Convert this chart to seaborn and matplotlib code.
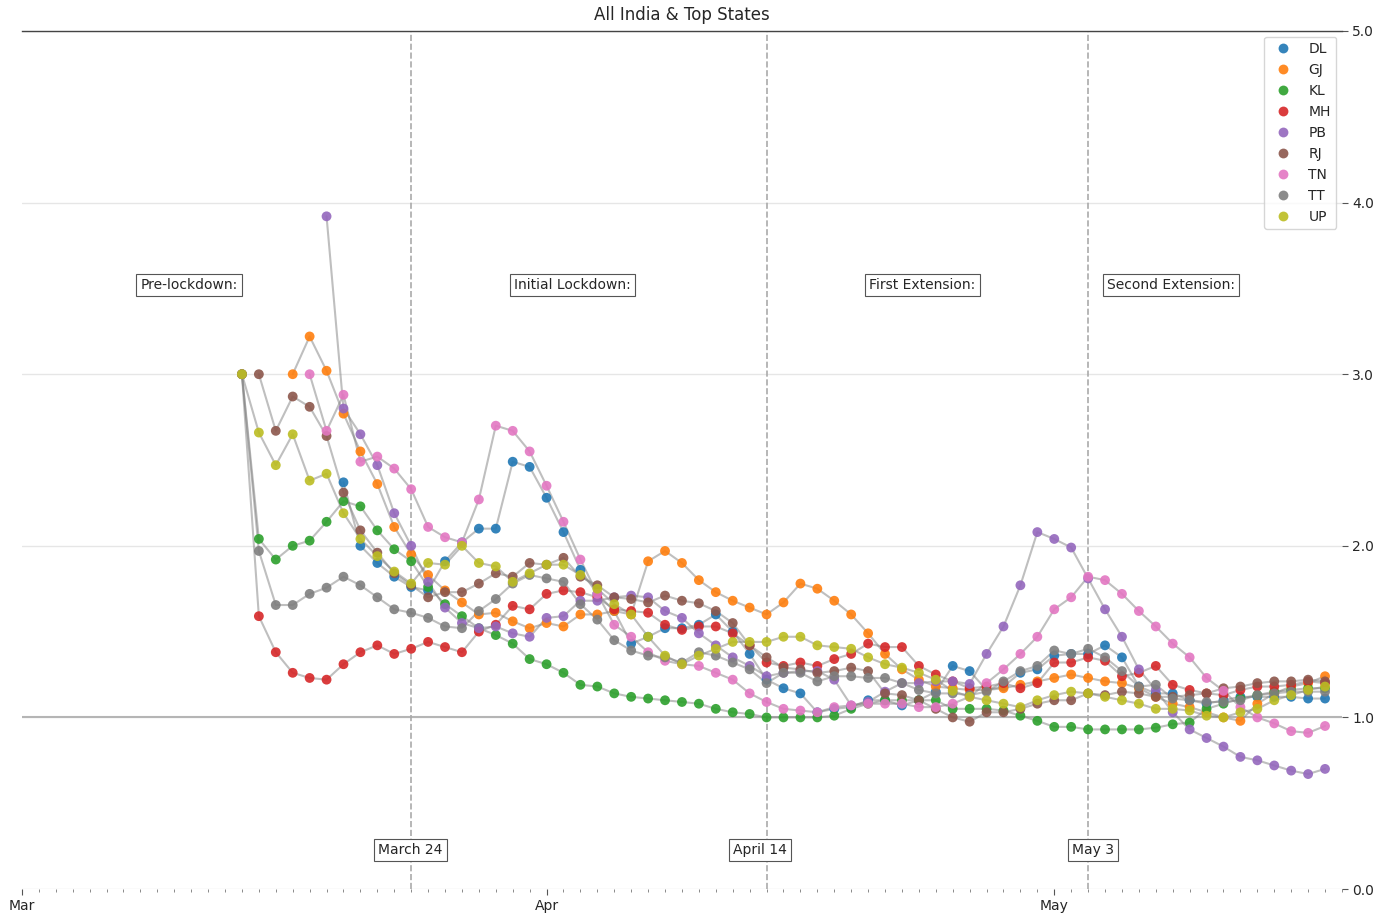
import numpy as np
import pandas as pd
import matplotlib
matplotlib.use("Agg")
import matplotlib.pyplot as plt
import matplotlib.dates as mdates
import seaborn as sns

# ── Data: daily estimates per state, each list starts at its own date ──────
STATES = ["DL", "GJ", "KL", "MH", "PB", "RJ", "TN", "TT", "UP"]

START = {
    "DL": "2020-03-20", "GJ": "2020-03-17", "KL": "2020-03-14",
    "MH": "2020-03-14", "PB": "2020-03-19", "RJ": "2020-03-15",
    "TN": "2020-03-18", "TT": "2020-03-14", "UP": "2020-03-14",
}

DL = [2.37, 2.00, 1.90, 1.82, 1.76, 1.74, 1.91, 2.02, 2.10, 2.10,
      2.49, 2.46, 2.28, 2.08, 1.86, 1.72, 1.62, 1.43, 1.47, 1.52,
      1.52, 1.54, 1.60, 1.50, 1.37, 1.22, 1.17, 1.14, 1.03, 1.05,
      1.06, 1.10, 1.10, 1.07, 1.10, 1.15, 1.30, 1.27, 1.16, 1.18,
      1.26, 1.28, 1.36, 1.37, 1.37, 1.42, 1.35, 1.18, 1.14, 1.14,
      1.10, 1.08, 1.10, 1.12, 1.12, 1.12, 1.12, 1.11, 1.11]

GJ = [3.00, 3.22, 3.02, 2.77, 2.55, 2.36, 2.11, 1.95, 1.83, 1.74,
      1.67, 1.60, 1.61, 1.56, 1.52, 1.55, 1.53, 1.60, 1.60, 1.62,
      1.60, 1.91, 1.97, 1.90, 1.80, 1.73, 1.68, 1.64, 1.60, 1.67,
      1.78, 1.75, 1.68, 1.60, 1.49, 1.37, 1.28, 1.22, 1.18, 1.17,
      1.16, 1.16, 1.17, 1.19, 1.21, 1.23, 1.25, 1.23, 1.21, 1.20,
      1.17, 1.12, 1.08, 1.06, 1.03, 1.00, 0.98, 1.08, 1.14, 1.18,
      1.20, 1.24]

KL = [3.00, 2.04, 1.92, 2.00, 2.03, 2.14, 2.26, 2.23, 2.09, 1.98,
      1.91, 1.76, 1.66, 1.59, 1.52, 1.48, 1.43, 1.34, 1.31, 1.26,
      1.19, 1.18, 1.14, 1.12, 1.11, 1.10, 1.09, 1.08, 1.05, 1.03,
      1.02, 1.00, 1.00, 1.00, 1.00, 1.01, 1.05, 1.08, 1.10, 1.10,
      1.10, 1.10, 1.05, 1.05, 1.05, 1.04, 1.01, 0.98, 0.945, 0.945,
      0.93, 0.93, 0.93, 0.93, 0.94, 0.96, 0.97, 1.05, 1.08, 1.11,
      1.13, 1.15, 1.16, 1.17, 1.17]

MH = [3.00, 1.59, 1.38, 1.26, 1.23, 1.22, 1.31, 1.38, 1.42, 1.37,
      1.40, 1.44, 1.41, 1.38, 1.50, 1.54, 1.65, 1.63, 1.72, 1.74,
      1.73, 1.70, 1.63, 1.62, 1.61, 1.54, 1.51, 1.53, 1.53, 1.49,
      1.42, 1.32, 1.30, 1.32, 1.30, 1.34, 1.37, 1.43, 1.41, 1.41,
      1.30, 1.25, 1.21, 1.17, 1.18, 1.20, 1.17, 1.20, 1.32, 1.32,
      1.35, 1.33, 1.24, 1.26, 1.30, 1.19, 1.16, 1.14, 1.13, 1.16,
      1.18, 1.18, 1.19, 1.21, 1.20]

PB = [3.92, 2.80, 2.65, 2.47, 2.19, 2.00, 1.79, 1.64, 1.55, 1.52,
      1.53, 1.49, 1.47, 1.58, 1.59, 1.68, 1.68, 1.70, 1.71, 1.70,
      1.62, 1.58, 1.49, 1.42, 1.35, 1.30, 1.24, 1.26, 1.27, 1.27,
      1.22, 1.07, 1.09, 1.15, 1.20, 1.20, 1.21, 1.21, 1.195, 1.37,
      1.53, 1.77, 2.08, 2.04, 1.99, 1.81, 1.63, 1.47, 1.28, 1.16,
      1.03, 0.93, 0.88, 0.83, 0.77, 0.75, 0.72, 0.69, 0.67, 0.70]

RJ = [3.00, 2.67, 2.87, 2.81, 2.64, 2.31, 2.09, 1.96, 1.84, 1.77,
      1.70, 1.73, 1.73, 1.78, 1.84, 1.82, 1.90, 1.89, 1.93, 1.82,
      1.77, 1.70, 1.69, 1.67, 1.71, 1.68, 1.665, 1.62, 1.55, 1.42,
      1.35, 1.29, 1.28, 1.26, 1.27, 1.29, 1.27, 1.14, 1.13, 1.10,
      1.05, 1.00, 0.975, 1.03, 1.03, 1.05, 1.08, 1.10, 1.10, 1.14,
      1.13, 1.15, 1.14, 1.12, 1.12, 1.13, 1.14, 1.17, 1.18, 1.20,
      1.21, 1.21, 1.22, 1.21]

TN = [3.00, 2.67, 2.88, 2.49, 2.52, 2.45, 2.33, 2.11, 2.05, 2.02,
      2.27, 2.70, 2.67, 2.55, 2.35, 2.14, 1.92, 1.72, 1.54, 1.47,
      1.38, 1.33, 1.31, 1.30, 1.26, 1.22, 1.14, 1.09, 1.05, 1.04,
      1.03, 1.06, 1.07, 1.08, 1.08, 1.08, 1.06, 1.06, 1.08, 1.12,
      1.20, 1.28, 1.37, 1.47, 1.63, 1.70, 1.82, 1.80, 1.72, 1.62,
      1.53, 1.43, 1.35, 1.23, 1.155, 1.06, 1.00, 0.965, 0.92, 0.91,
      0.95]

TT = [3.00, 1.97, 1.655, 1.655, 1.72, 1.756, 1.82, 1.77, 1.70, 1.63,
      1.61, 1.58, 1.53, 1.52, 1.62, 1.69, 1.78, 1.83, 1.81, 1.79,
      1.66, 1.57, 1.45, 1.39, 1.36, 1.35, 1.32, 1.38, 1.36, 1.32,
      1.28, 1.20, 1.26, 1.26, 1.21, 1.24, 1.24, 1.23, 1.23, 1.20,
      1.16, 1.14, 1.14, 1.13, 1.15, 1.21, 1.27, 1.30, 1.39, 1.37,
      1.40, 1.35, 1.27, 1.18, 1.19, 1.11, 1.10, 1.09, 1.09, 1.10,
      1.13, 1.14, 1.15, 1.15, 1.15]

UP = [3.00, 2.66, 2.47, 2.65, 2.38, 2.42, 2.19, 2.04, 1.94, 1.85,
      1.78, 1.90, 1.89, 2.00, 1.90, 1.88, 1.79, 1.84, 1.89, 1.89,
      1.83, 1.75, 1.66, 1.60, 1.47, 1.36, 1.31, 1.36, 1.40, 1.44,
      1.44, 1.44, 1.47, 1.47, 1.42, 1.41, 1.40, 1.35, 1.31, 1.29,
      1.26, 1.22, 1.155, 1.12, 1.10, 1.08, 1.06, 1.10, 1.13, 1.15,
      1.14, 1.12, 1.10, 1.08, 1.05, 1.05, 1.04, 1.01, 1.00, 1.03,
      1.05, 1.10, 1.13, 1.16, 1.18]

VALUES = {"DL": DL, "GJ": GJ, "KL": KL, "MH": MH, "PB": PB,
          "RJ": RJ, "TN": TN, "TT": TT, "UP": UP}

# phase markers
PHASE_DATES = ["2020-03-24", "2020-04-14", "2020-05-03"]
PHASE_DATE_LABELS = ["March 24", "April 14", "May 3"]
PHASE_NAMES = ["Pre-lockdown:", "Initial Lockdown:", "First Extension:", "Second Extension:"]


# ── Build long table ──────────────────────────────────────────────────────
frames = []
for st in STATES:
    vals = VALUES[st]
    frames.append(pd.DataFrame({
        "date": pd.date_range(START[st], periods=len(vals), freq="D"),
        "r": vals,
        "state": st,
    }))
df = pd.concat(frames, ignore_index=True)

# ── Plot ──────────────────────────────────────────────────────────────────
sns.set_style("white")
plt.rcParams["font.family"] = ["DejaVu Sans"]

fig = plt.figure(figsize=(13.97, 9.17), dpi=100)
ax = fig.add_axes([0.0157, 0.0305, 0.9449, 0.9357])

ax.yaxis.grid(True, color="#e6e6e6", lw=1, zorder=0)
ax.axhline(1.0, color="#b5b5b5", lw=1.5, zorder=1)

for d in PHASE_DATES:
    ax.axvline(pd.Timestamp(d), color="#aaaaaa", ls="--", lw=1.2, zorder=1)

sns.lineplot(data=df, x="date", y="r", units="state", estimator=None,
             color="grey", alpha=0.5, lw=1.5, legend=False, ax=ax, zorder=2)
sns.scatterplot(data=df, x="date", y="r", hue="state", hue_order=STATES,
                palette="tab10", s=50, linewidth=0, alpha=0.9, ax=ax, zorder=3)

# ── Axes styling ──────────────────────────────────────────────────────────
ax.set_xlim(pd.Timestamp("2020-03-01"), pd.Timestamp("2020-05-18"))
ax.set_ylim(0, 5)
ax.set_xlabel("")
ax.set_ylabel("")
ax.set_title("All India & Top States", fontsize=12, pad=8)

for side in ["left", "right", "bottom"]:
    ax.spines[side].set_visible(False)
ax.spines["top"].set_color("#444444")
ax.spines["top"].set_linewidth(1.0)

ax.yaxis.tick_right()
ax.set_yticks(np.arange(0, 6, 1))
ax.yaxis.set_major_formatter(matplotlib.ticker.FormatStrFormatter("%.1f"))
ax.tick_params(axis="y", length=4, color="#555555", labelsize=10)

ax.xaxis.set_major_locator(mdates.MonthLocator())
ax.xaxis.set_major_formatter(mdates.DateFormatter("%b"))
ax.xaxis.set_minor_locator(mdates.DayLocator())
ax.tick_params(axis="x", which="major", length=4, color="#555555", labelsize=10)
ax.tick_params(axis="x", which="minor", length=2, color="#777777")
ax.tick_params(axis="x", which="both", bottom=True)

# ── Annotations ───────────────────────────────────────────────────────────
box = dict(boxstyle="square,pad=0.3", facecolor="white", edgecolor="#555555", lw=0.8)
base = pd.Timestamp("2020-03-01")
name_offsets = [9.86, 32.55, 53.2, 67.9]
for off, name in zip(name_offsets, PHASE_NAMES):
    ax.text(base + pd.Timedelta(days=off), 3.52, name, ha="center", va="center",
            fontsize=10, bbox=box, zorder=5)

date_offsets = [-0.05, -0.4, 0.3]
for d, lab, off in zip(PHASE_DATES, PHASE_DATE_LABELS, date_offsets):
    ax.text(pd.Timestamp(d) + pd.Timedelta(days=off), 0.227, lab, ha="center",
            va="center", fontsize=10, bbox=box, zorder=5)

leg = ax.legend(loc="upper right", frameon=True, fontsize=10,
                borderaxespad=0.4, labelspacing=0.5, handletextpad=0.8,
                markerscale=1.0)
leg.get_frame().set_edgecolor("#cccccc")

fig.savefig("out.png", dpi=100)
